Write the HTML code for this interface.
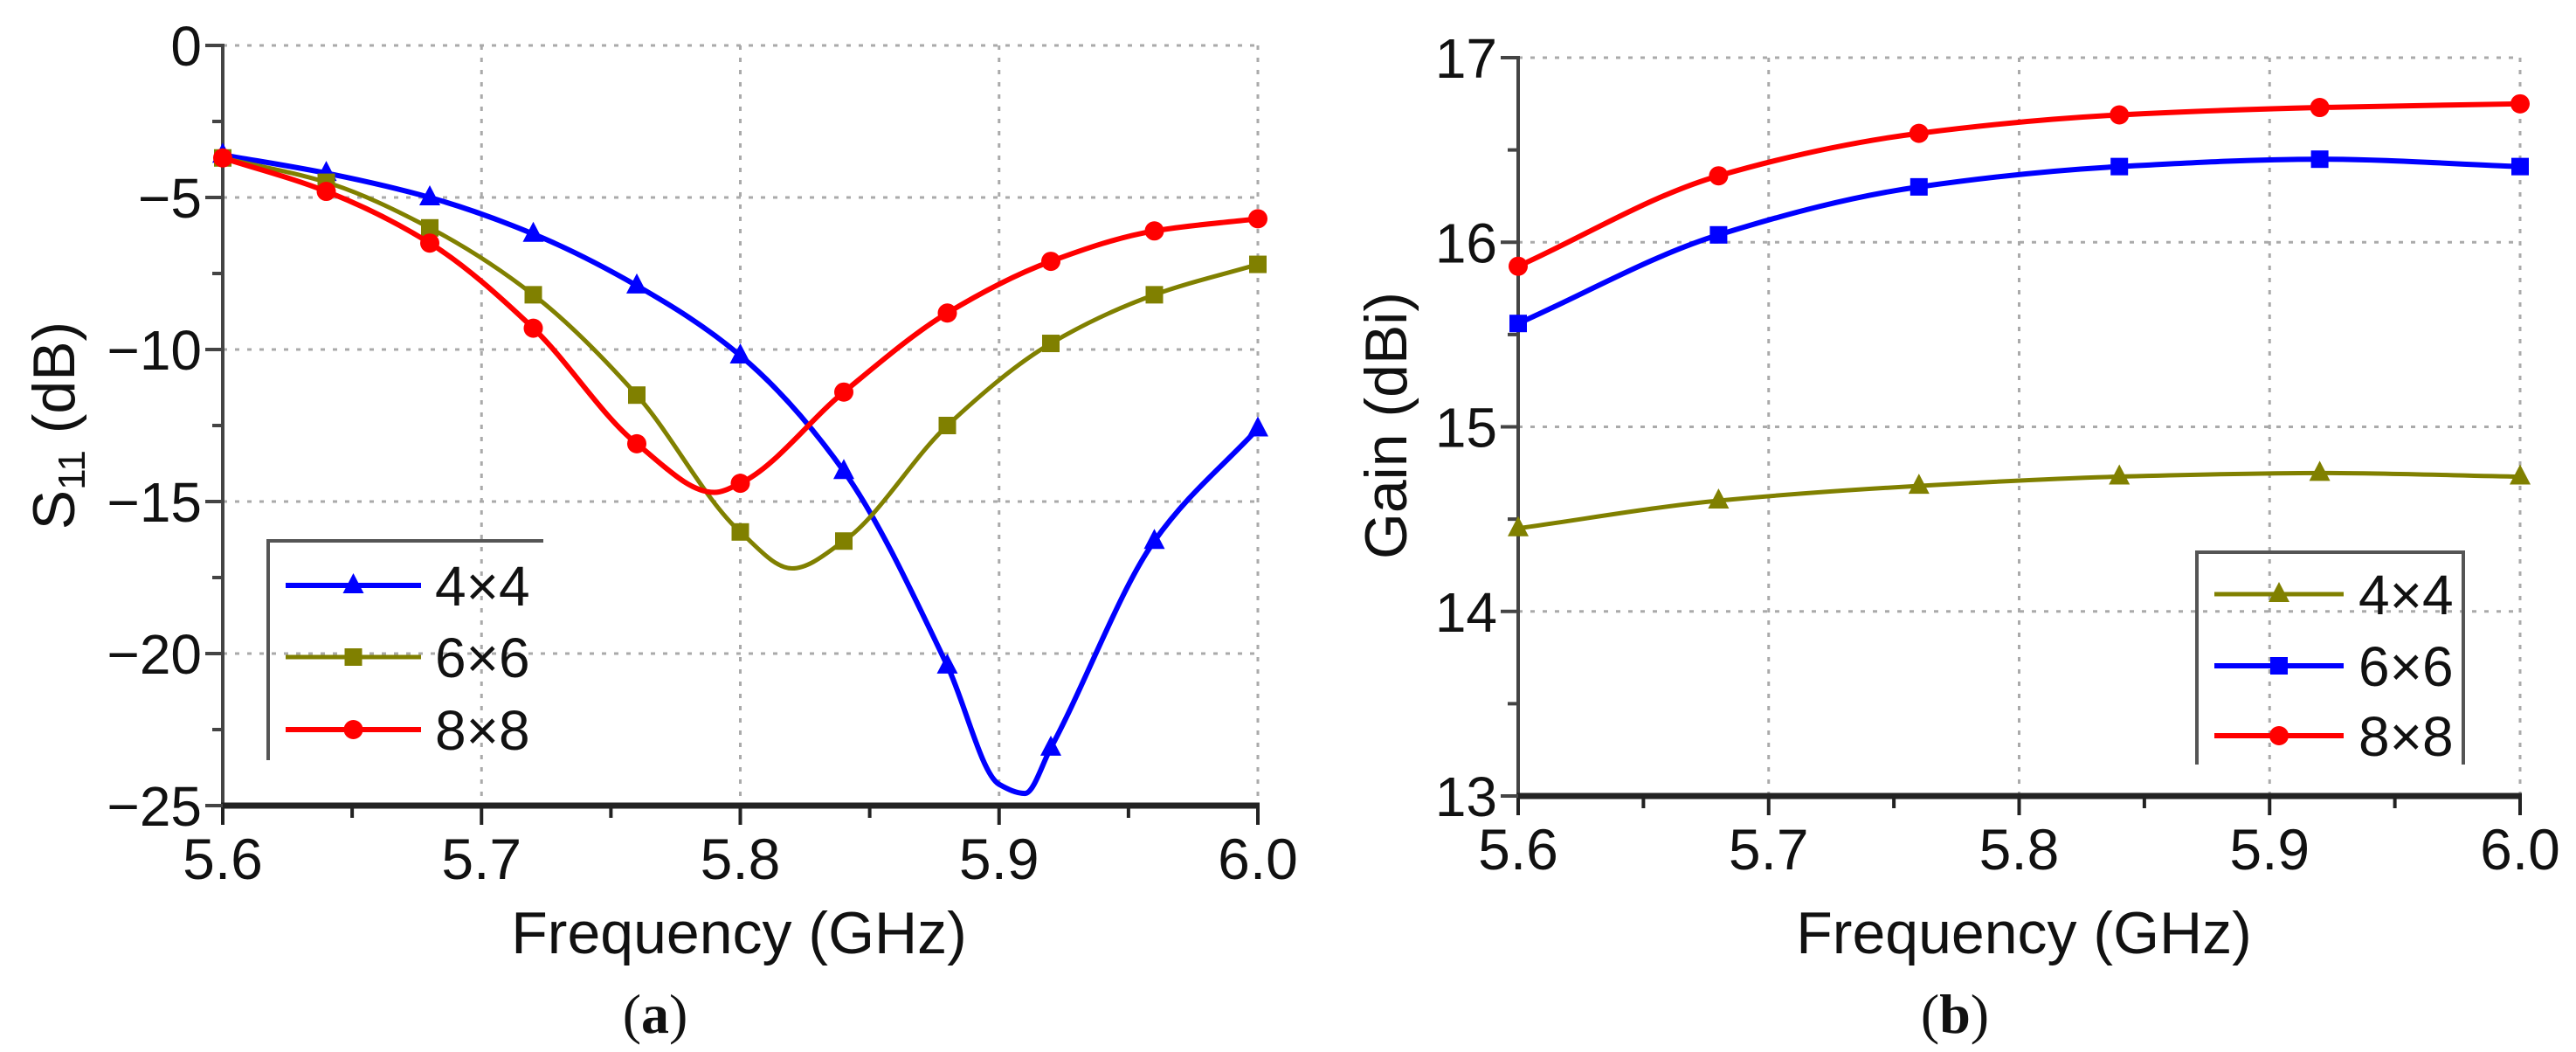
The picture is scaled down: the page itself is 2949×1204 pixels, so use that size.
<!DOCTYPE html>
<html><head><meta charset="utf-8"><style>
html,body{margin:0;padding:0;background:#fff;}
svg{display:block;}
text{font-family:"Liberation Sans",Arial,sans-serif;fill:#111;}
</style></head><body>
<svg id="fig" width="2949" height="1204" viewBox="0 0 2949 1204" xmlns="http://www.w3.org/2000/svg">
<g id="pa"></g>
<g id="pb"></g>
</svg>
<script>
// ---- Chart (a) data: S11 ----
const aXTicks = [5.6, 5.7, 5.8, 5.9, 6.0];
const aXTickLabels = ["5.6", "5.7", "5.8", "5.9", "6.0"];
const aYTicks = [0, -5, -10, -15, -20, -25];
const aYTickLabels = ["0", "\u22125", "\u221210", "\u221215", "\u221220", "\u221225"];
const aFreq44 = [5.60, 5.64, 5.68, 5.72, 5.76, 5.80, 5.84, 5.88, 5.90, 5.91, 5.92, 5.96, 6.00];
const aS44 = [-3.6, -4.2, -5.0, -6.2, -7.9, -10.2, -14.0, -20.4, -24.3, -24.6, -23.1, -16.3, -12.6];
const aFreq66 = [5.60, 5.64, 5.68, 5.72, 5.76, 5.80, 5.82, 5.84, 5.88, 5.92, 5.96, 6.00];
const aS66 = [-3.7, -4.5, -6.0, -8.2, -11.5, -16.0, -17.2, -16.3, -12.5, -9.8, -8.2, -7.2];
const aFreq88 = [5.60, 5.64, 5.68, 5.72, 5.76, 5.79, 5.80, 5.84, 5.88, 5.92, 5.96, 6.00];
const aS88 = [-3.7, -4.8, -6.5, -9.3, -13.1, -14.7, -14.4, -11.4, -8.8, -7.1, -6.1, -5.7];
// ---- Chart (b) data: Gain ----
const bXTicks = [5.6, 5.7, 5.8, 5.9, 6.0];
const bXTickLabels = ["5.6", "5.7", "5.8", "5.9", "6.0"];
const bYTicks = [13, 14, 15, 16, 17];
const bYTickLabels = ["13", "14", "15", "16", "17"];
const bFreq = [5.60, 5.68, 5.76, 5.84, 5.92, 6.00];
const bG44 = [14.45, 14.60, 14.68, 14.73, 14.75, 14.73];
const bG66 = [15.56, 16.04, 16.30, 16.41, 16.45, 16.41];
const bG88 = [15.87, 16.36, 16.59, 16.69, 16.73, 16.75];

const NS = "http://www.w3.org/2000/svg";
function mk(tag, parent, attrs){const e=document.createElementNS(NS,tag);for(const k in attrs)e.setAttribute(k,attrs[k]);parent.appendChild(e);return e;}

// monotone cubic (Fritsch-Carlson) in pixel space, x increasing
function smoothPath(pts){
  const n=pts.length, dx=[], s=[], m=[];
  for(let i=0;i<n-1;i++){dx[i]=pts[i+1][0]-pts[i][0]; s[i]=(pts[i+1][1]-pts[i][1])/dx[i];}
  m[0]=s[0]; m[n-1]=s[n-2];
  for(let i=1;i<n-1;i++){
    if(s[i-1]*s[i]<=0) m[i]=0;
    else { const w1=2*dx[i]+dx[i-1], w2=dx[i]+2*dx[i-1]; m[i]=(w1+w2)/(w1/s[i-1]+w2/s[i]); }
  }
  let d="M"+pts[0][0]+","+pts[0][1];
  for(let i=0;i<n-1;i++){
    const h=dx[i]/3;
    d+=" C"+(pts[i][0]+h)+","+(pts[i][1]+m[i]*h)+" "+(pts[i+1][0]-h)+","+(pts[i+1][1]-m[i+1]*h)+" "+pts[i+1][0]+","+pts[i+1][1];
  }
  return d;
}
function marker(g, shape, x, y, color){
  let m;
  if(shape==="tri") m=mk("polygon",g,{points:(x)+","+(y-14)+" "+(x-12)+","+(y+9)+" "+(x+12)+","+(y+9),fill:color});
  else if(shape==="sq") m=mk("rect",g,{x:x-10,y:y-10,width:20,height:20,fill:color});
  else m=mk("circle",g,{cx:x,cy:y,r:11,fill:color});
  
  
}

function drawChart(g, cfg){
  const X = v => cfg.x0 + (v-cfg.xmin)/(cfg.xmax-cfg.xmin)*(cfg.x1-cfg.x0);
  const Y = v => cfg.y0 + (v-cfg.ymin)/(cfg.ymax-cfg.ymin)*(cfg.y1-cfg.y0);
  cfg.xTicks.forEach(t=>{ if(t!==cfg.xmin){
    const l=mk("line",g,{x1:X(t),x2:X(t),y1:cfg.y1,y2:cfg.y0,stroke:"#aaa","stroke-width":3,"stroke-dasharray":"5,9"});
    
    
  }});
  cfg.yTicks.forEach(t=>{ if(t!==cfg.ymin){
    const l=mk("line",g,{x1:cfg.x0,x2:cfg.x1,y1:Y(t),y2:Y(t),stroke:"#aaa","stroke-width":3,"stroke-dasharray":"5,9"});
    
    
  }});
  const ya=mk("line",g,{x1:cfg.x0,x2:cfg.x0,y1:cfg.y1-2,y2:cfg.y0+2,stroke:"#444","stroke-width":4});
  
  
  const xa=mk("line",g,{x1:cfg.x0-2,x2:cfg.x1+2,y1:cfg.y0,y2:cfg.y0,stroke:"#222","stroke-width":7});
  
  
  for(let i=0;i<cfg.xTicks.length;i++){
    const t=cfg.xTicks[i];
    mk("line",g,{x1:X(t),x2:X(t),y1:cfg.y0,y2:cfg.y0+22,stroke:"#222","stroke-width":4});
    if(i<cfg.xTicks.length-1){const h=(t+cfg.xTicks[i+1])/2;mk("line",g,{x1:X(h),x2:X(h),y1:cfg.y0,y2:cfg.y0+14,stroke:"#222","stroke-width":4});}
    const tx=mk("text",g,{x:X(t),y:cfg.y0+84,"font-size":66,"text-anchor":"middle"});
    tx.textContent=cfg.xLabels[i];
    
    
  }
  for(let i=0;i<cfg.yTicks.length;i++){
    const t=cfg.yTicks[i];
    mk("line",g,{x1:cfg.x0-20,x2:cfg.x0,y1:Y(t),y2:Y(t),stroke:"#444","stroke-width":4});
    if(i<cfg.yTicks.length-1){const h=(t+cfg.yTicks[i+1])/2;mk("line",g,{x1:cfg.x0-12,x2:cfg.x0,y1:Y(h),y2:Y(h),stroke:"#444","stroke-width":4});}
    const ty=mk("text",g,{x:cfg.x0-24,y:Y(t)+23,"font-size":64,"text-anchor":"end"});
    ty.textContent=cfg.yLabels[i];
    
    
  }
  cfg.series.forEach(s=>{
    const pts=s.f.map((f,i)=>[X(f),Y(s.v[i])]);
    const p=mk("path",g,{d:smoothPath(pts),fill:"none",stroke:s.color,"stroke-width":s.w,"stroke-linejoin":"round"});
    
    
    s.f.forEach((f,i)=>{
      const k=Math.round((f-cfg.xmin)*100);
      if(k % s.step===0) marker(g,s.shape,X(f),Y(s.v[i]),s.color);
    });
  });
  const L=cfg.legend;
  const lg=mk("g",g,{});
  
  
  let d="M"+L.x0+","+L.y1+" L"+L.x0+","+L.y0+" L"+L.x1+","+L.y0;
  if(L.right) d+=" L"+L.x1+","+L.y1;
  mk("path",lg,{d:d,fill:"none",stroke:"#555","stroke-width":4});
  L.items.forEach((it,i)=>{
    const y=L.ey[i];
    const e=mk("g",lg,{});
    
    
    mk("line",e,{x1:L.lx0,x2:L.lx1,y1:y,y2:y,stroke:it.color,"stroke-width":it.w});
    marker(e,it.shape,(L.lx0+L.lx1)/2,y,it.color);
    const t=mk("text",e,{x:L.tx,y:y+23,"font-size":64});
    t.textContent=it.label;
  });
}

const BLUE="#0000ff", OLIVE="#808000", RED="#ff0000";
drawChart(document.getElementById("pa"),{
  x0:255,x1:1440,xmin:5.6,xmax:6.0,y0:922,y1:52,ymin:-25,ymax:0,
  xTicks:aXTicks,xLabels:aXTickLabels,yTicks:aYTicks,yLabels:aYTickLabels,
  series:[
    {name:"series-4x4",f:aFreq44,v:aS44,color:BLUE,w:6,shape:"tri",step:4},
    {name:"series-6x6",f:aFreq66,v:aS66,color:OLIVE,w:5,shape:"sq",step:4},
    {name:"series-8x8",f:aFreq88,v:aS88,color:RED,w:6,shape:"circ",step:4}
  ],
  legend:{x0:307,x1:622,y0:619,y1:870,right:false,ey:[670,752,835],lx0:327,lx1:482,tx:498,
    items:[{label:"4\u00d74",color:BLUE,w:6,shape:"tri"},{label:"6\u00d76",color:OLIVE,w:5,shape:"sq"},{label:"8\u00d78",color:RED,w:6,shape:"circ"}]}
});
drawChart(document.getElementById("pb"),{
  x0:1738,x1:2885,xmin:5.6,xmax:6.0,y0:911,y1:66,ymin:13,ymax:17,
  xTicks:bXTicks,xLabels:bXTickLabels,yTicks:bYTicks,yLabels:bYTickLabels,
  series:[
    {name:"series-4x4",f:bFreq,v:bG44,color:OLIVE,w:5,shape:"tri",step:8},
    {name:"series-6x6",f:bFreq,v:bG66,color:BLUE,w:6,shape:"sq",step:8},
    {name:"series-8x8",f:bFreq,v:bG88,color:RED,w:6,shape:"circ",step:8}
  ],
  legend:{x0:2515,x1:2820,y0:632,y1:875,right:true,ey:[680,762,842],lx0:2535,lx1:2683,tx:2700,
    items:[{label:"4\u00d74",color:OLIVE,w:5,shape:"tri"},{label:"6\u00d76",color:BLUE,w:6,shape:"sq"},{label:"8\u00d78",color:RED,w:6,shape:"circ"}]}
});
</script>
<div style="position:absolute;left:0;top:0;width:2949px;height:1204px;pointer-events:none;">
<svg width="2949" height="1204" viewBox="0 0 2949 1204" xmlns="http://www.w3.org/2000/svg">
  <text transform="translate(85,487) rotate(-90)" text-anchor="middle" font-size="68" style="font-family:'Liberation Sans',sans-serif">S<tspan font-size="44" dy="12">11</tspan><tspan dy="-12"> (dB)</tspan></text>
  <text transform="translate(1610,487) rotate(-90)" text-anchor="middle" font-size="68" style="font-family:'Liberation Sans',sans-serif">Gain (dBi)</text>
  <text x="846" y="1091" text-anchor="middle" font-size="68" style="font-family:'Liberation Sans',sans-serif">Frequency (GHz)</text>
  <text x="2317" y="1091" text-anchor="middle" font-size="68" style="font-family:'Liberation Sans',sans-serif">Frequency (GHz)</text>
  <text x="750" y="1182" text-anchor="middle" font-size="64" style="font-family:'Liberation Serif',serif">(<tspan font-weight="bold">a</tspan>)</text>
  <text x="2238" y="1182" text-anchor="middle" font-size="64" style="font-family:'Liberation Serif',serif">(<tspan font-weight="bold">b</tspan>)</text>
</svg>
</div>
</body></html>
